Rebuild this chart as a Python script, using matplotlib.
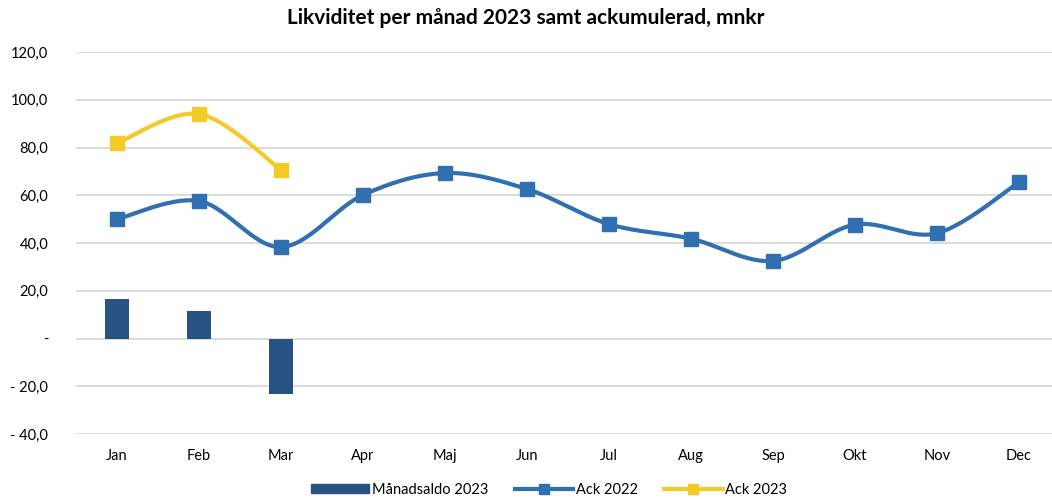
import numpy as np
import matplotlib
matplotlib.use("Agg")
import matplotlib.pyplot as plt
from matplotlib.patches import Patch
from matplotlib.lines import Line2D

plt.rcParams.update({"font.family": ["Lato", "DejaVu Sans"], "font.size": 10})

months = ["Jan", "Feb", "Mar", "Apr", "Maj", "Jun", "Jul", "Aug", "Sep", "Okt", "Nov", "Dec"]
manadsaldo_2023 = [16.5, 11.6, -23.2]
ack_2022 = [50.0, 57.6, 38.3, 60.1, 69.3, 62.6, 47.9, 41.8, 32.5, 47.7, 44.1, 65.4]
ack_2023 = [81.8, 94.0, 70.7]

C_BAR = "#265384"; C_22 = "#3070B0"; C_23 = "#F4C928"; C_GRID = "#D9D9D9"


def smooth(xs, ys, n=30):
    # excel-style smoothed line: cubic bezier with control points at 1/6 of neighbour span
    x = np.asarray(xs, float); y = np.asarray(ys, float)
    P = np.column_stack([x, y])
    out = [P[0]]
    for i in range(len(P) - 1):
        p0 = P[i - 1] if i > 0 else P[i]
        p3 = P[i + 2] if i + 2 < len(P) else P[i + 1]
        c1 = P[i] + (P[i + 1] - p0) / 6
        c2 = P[i + 1] - (p3 - P[i]) / 6
        t = np.linspace(0, 1, n)[1:, None]
        seg = (1 - t) ** 3 * P[i] + 3 * (1 - t) ** 2 * t * c1 + 3 * (1 - t) * t ** 2 * c2 + t ** 3 * P[i + 1]
        out.extend(seg)
    out = np.array(out)
    return out[:, 0], out[:, 1]


fig = plt.figure(figsize=(10.52, 4.99), dpi=100)
ax = fig.add_axes([76 / 1052, 1 - 434 / 499, 984 / 1052, 382 / 499])
x = np.arange(len(months))

ax.bar(x[:len(manadsaldo_2023)], manadsaldo_2023, width=0.3, color=C_BAR, zorder=2)
sx, sy = smooth(x, ack_2022)
ax.plot(sx, sy, color=C_22, lw=3.0, zorder=3, solid_capstyle="round")
ax.plot(x, ack_2022, ls="none", marker="s", ms=10, color=C_22, zorder=4)
sx, sy = smooth(x[:len(ack_2023)], ack_2023)
ax.plot(sx, sy, color=C_23, lw=3.0, zorder=3, solid_capstyle="round")
ax.plot(x[:len(ack_2023)], ack_2023, ls="none", marker="s", ms=10, color=C_23, zorder=4)

ax.set_xlim(-0.5, 11.5)
ax.set_ylim(-40, 120)
yt = np.arange(-40, 121, 20)
ax.set_yticks(yt)
def fmt(v):
    if v == 0:
        return "-"
    s = ("%.1f" % abs(v)).replace(".", ",")
    return "- " + s if v < 0 else s
ax.set_yticklabels([fmt(v) for v in yt], fontsize=10.5)
ax.set_xticks(x)
ax.set_xticklabels(months, fontsize=10.5)
ax.tick_params(length=0)
ax.tick_params(axis="y", pad=20)
ax.tick_params(axis="x", pad=11)
ax.grid(axis="y", color=C_GRID, lw=1.3, zorder=0)
ax.set_axisbelow(True)
for s in ax.spines.values():
    s.set_visible(False)

fig.text(0.5, 1 - 18 / 499, "Likviditet per månad 2023 samt ackumulerad, mnkr",
         ha="center", va="center", fontsize=15, fontweight="bold")

handles = [Patch(color=C_BAR, label="Månadsaldo 2023"),
           Line2D([], [], color=C_22, lw=3, marker="s", ms=7, label="Ack 2022"),
           Line2D([], [], color=C_23, lw=3, marker="s", ms=7, label="Ack 2023")]
fig.legend(handles=handles, loc="center", bbox_to_anchor=(0.522, 1 - 490 / 499), ncol=3,
           frameon=False, fontsize=10.5, handlelength=4.0, handleheight=0.6,
           handletextpad=0.2, columnspacing=1.8)

fig.savefig("out.png", dpi=100, facecolor="white")
